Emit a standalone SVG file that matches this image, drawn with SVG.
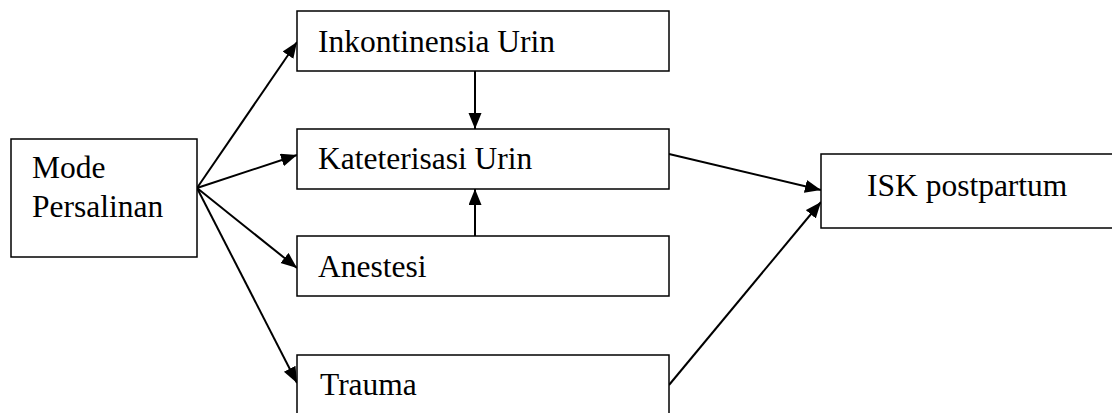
<svg xmlns="http://www.w3.org/2000/svg" width="1112" height="413" viewBox="0 0 1112 413">
<style>
.box{fill:#fff;stroke:#000;stroke-width:1.5}
.t{font-family:"Liberation Serif","Times New Roman",serif;font-size:31.5px;fill:#000}
.c{stroke:#000;stroke-width:2;fill:none}
</style>
<defs>
<marker id="ah" markerUnits="userSpaceOnUse" markerWidth="18" markerHeight="14" refX="16" refY="6.5" orient="auto">
<path d="M0,0 L16,6.5 L0,13 z" fill="#000"/>
</marker>
</defs>
<rect width="1112" height="413" fill="#fff"/>
<g id="connectors">
<line class="c" x1="197" y1="188" x2="297" y2="42" marker-end="url(#ah)"/>
<line class="c" x1="197" y1="188" x2="297" y2="155" marker-end="url(#ah)"/>
<line class="c" x1="197" y1="188" x2="297" y2="268" marker-end="url(#ah)"/>
<line class="c" x1="197" y1="188" x2="297" y2="383" marker-end="url(#ah)"/>
<line class="c" x1="475" y1="71" x2="475" y2="129" marker-end="url(#ah)"/>
<line class="c" x1="475" y1="236" x2="475" y2="189" marker-end="url(#ah)"/>
<line class="c" x1="669" y1="154" x2="821" y2="190" marker-end="url(#ah)"/>
<line class="c" x1="669" y1="385" x2="821" y2="202" marker-end="url(#ah)"/>
</g>
<g id="mode">
<rect class="box" x="11" y="139" width="186" height="118"/>
<text class="t" x="32" y="178">Mode</text>
<text class="t" x="32" y="217">Persalinan</text>
</g>
<g id="inkontinensia">
<rect class="box" x="297" y="11" width="372" height="60"/>
<text class="t" x="318" y="52">Inkontinensia Urin</text>
</g>
<g id="kateterisasi">
<rect class="box" x="297" y="129" width="372" height="60"/>
<text class="t" x="318" y="169">Kateterisasi Urin</text>
</g>
<g id="anestesi">
<rect class="box" x="297" y="236" width="372" height="60"/>
<text class="t" x="318" y="277">Anestesi</text>
</g>
<g id="trauma">
<rect class="box" x="297" y="355" width="372" height="70"/>
<text class="t" x="320" y="395">Trauma</text>
</g>
<g id="isk">
<rect class="box" x="821" y="154" width="300" height="74"/>
<text class="t" x="867" y="196">ISK postpartum</text>
</g>
</svg>
